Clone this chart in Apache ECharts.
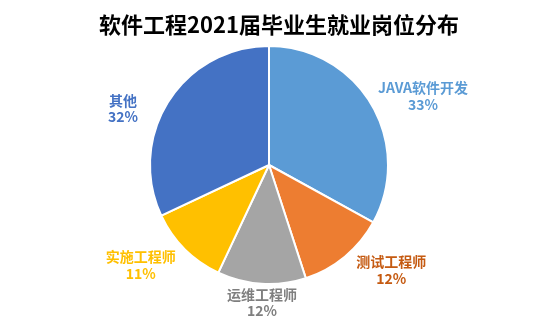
<!DOCTYPE html>
<html><head><meta charset="utf-8">
<script src="https://cdn.jsdelivr.net/npm/echarts@6/dist/echarts.min.js"></script>
<style>html,body{margin:0;padding:0;background:#fff}#c{width:558px;height:321px}</style>
</head><body><div id="c"></div>
<script>
const titleText = '软件工程2021届毕业生就业岗位分布';
const categories = ['JAVA软件开发', '测试工程师', '运维工程师', '实施工程师', '其他'];
const values = [33, 12, 12, 11, 32];
const colors = ['#5B9BD5', '#ED7D31', '#A5A5A5', '#FFC000', '#4472C4'];
const labelColors = ['#5B9BD5', '#C55A11', '#7F7F7F', '#FFC000', '#4472C4'];
const labelNudge = [[-7, -3], [0, 6], [41, 9], [3, 9], [-17, 13]];

const chart = echarts.init(document.getElementById('c'));
chart.setOption({
  animation: false,
  title: {
    text: titleText, left: 'center', top: 9,
    textStyle: {fontFamily: 'Noto Sans CJK SC', fontSize: 22, fontWeight: 'bold', color: '#000'}
  },
  series: [{
    type: 'pie',
    center: [269, 165],
    radius: 119,
    startAngle: 90,
    clockwise: true,
    avoidLabelOverlap: false,
    itemStyle: {borderColor: '#fff', borderWidth: 2},
    label: {
      position: 'outside',
      formatter: '{b}\n{c}%',
      fontFamily: 'Noto Sans CJK SC',
      fontSize: 14,
      fontWeight: 'bold',
      lineHeight: 16.5
    },
    labelLine: {show: false, length: 10, length2: 0},
    labelLayout: function (p) {
      const r = p.labelRect, n = labelNudge[p.dataIndex];
      return {
        x: r.x + r.width / 2 + n[0],
        y: r.y + r.height / 2 + n[1],
        align: 'center',
        verticalAlign: 'middle'
      };
    },
    data: categories.map((n, i) => ({
      name: n, value: values[i],
      itemStyle: {color: colors[i]},
      label: {color: labelColors[i]}
    }))
  }]
});
</script></body></html>
